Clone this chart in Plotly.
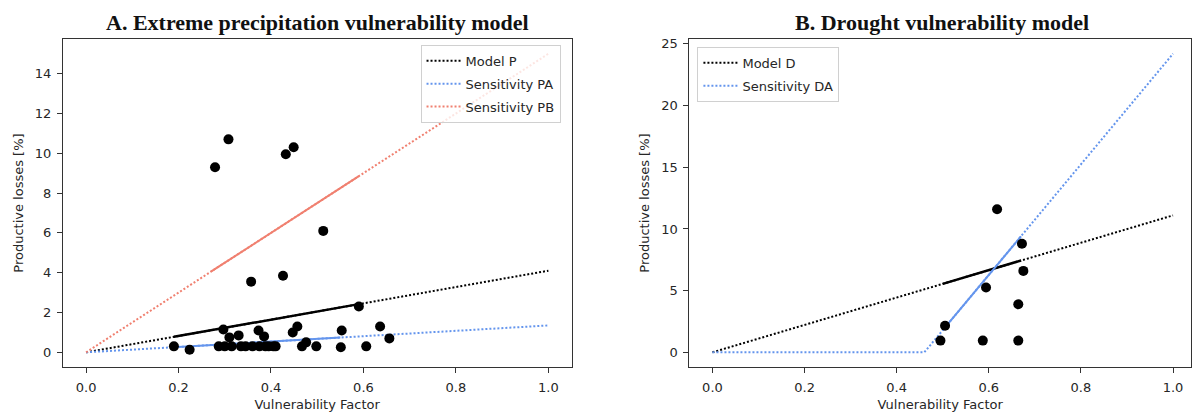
import plotly.graph_objects as go

# ---------------- data ----------------
# Panel A scatter (vulnerability factor, productive losses %)
a_vf = [0.19, 0.224, 0.287, 0.297, 0.30, 0.31, 0.315, 0.33, 0.335, 0.345, 0.357, 0.36,
        0.373, 0.375, 0.385, 0.388, 0.395, 0.405, 0.41, 0.426, 0.447, 0.457, 0.467,
        0.476, 0.498, 0.513, 0.551, 0.553, 0.59, 0.606, 0.636, 0.656, 0.279, 0.308,
        0.432, 0.449]
a_loss = [0.3, 0.13, 0.3, 1.15, 0.3, 0.75, 0.3, 0.85, 0.3, 0.3, 3.55, 0.3,
          1.1, 0.3, 0.8, 0.3, 0.3, 0.3, 0.3, 3.85, 1.0, 1.3, 0.3,
          0.5, 0.3, 6.1, 0.25, 1.1, 2.3, 0.3, 1.3, 0.7, 9.3, 10.7,
          9.95, 10.3]

# Panel A model lines (full range, dotted) and fitted-range segments (solid)
line_x = [0.0, 1.0]
model_p = [0.0, 4.1]
sens_pa = [0.0, 1.35]
sens_pb = [0.0, 15.0]
seg_p_x = [0.19, 0.59]
seg_p_y = [0.78, 2.42]
seg_pa_x = [0.19, 0.55]
seg_pa_y = [0.26, 0.74]
seg_pb_x = [0.27, 0.59]
seg_pb_y = [4.05, 8.85]

# Panel B scatter
b_vf = [0.495, 0.505, 0.587, 0.594, 0.618, 0.664, 0.664, 0.672, 0.675]
b_loss = [0.95, 2.15, 0.95, 5.25, 11.6, 0.95, 3.9, 8.8, 6.6]

# Panel B model lines
model_d = [0.0, 11.1]
sens_da_x = [0.0, 0.46, 1.0]
sens_da_y = [0.0, 0.0, 24.2]
seg_d_x = [0.50, 0.67]
seg_d_y = [5.55, 7.44]
seg_da_x = [0.50, 0.67]
seg_da_y = [1.8, 9.4]

x_ticks = [0.0, 0.2, 0.4, 0.6, 0.8, 1.0]
a_yticks = [0, 2, 4, 6, 8, 10, 12, 14]
b_yticks = [0, 5, 10, 15, 20, 25]

BLACK = "#000000"
BLUE = "#6495ED"
RED = "#F08070"
TXT = "#262626"

W, H = 1192, 417

fig = go.Figure()

def dotted(x, y, color, name, xa, ya, legend):
    fig.add_trace(go.Scatter(x=x, y=y, mode="lines", name=name, legendgroup=name,
                             line=dict(color=color, width=2, dash="2px,2px"),
                             xaxis=xa, yaxis=ya, legend=legend, showlegend=True))

def solid(x, y, color, width, xa, ya):
    fig.add_trace(go.Scatter(x=x, y=y, mode="lines", showlegend=False,
                             line=dict(color=color, width=width),
                             xaxis=xa, yaxis=ya))

# Panel A
dotted(line_x, model_p, BLACK, "Model P", "x", "y", "legend")
dotted(line_x, sens_pa, BLUE, "Sensitivity PA", "x", "y", "legend")
dotted(line_x, sens_pb, RED, "Sensitivity PB", "x", "y", "legend")
solid(seg_p_x, seg_p_y, BLACK, 2.5, "x", "y")
solid(seg_pa_x, seg_pa_y, BLUE, 2, "x", "y")
solid(seg_pb_x, seg_pb_y, RED, 2, "x", "y")
fig.add_trace(go.Scatter(x=a_vf, y=a_loss, mode="markers", showlegend=False,
                         marker=dict(color=BLACK, size=10), xaxis="x", yaxis="y"))

# Panel B
dotted(line_x, model_d, BLACK, "Model D", "x2", "y2", "legend2")
dotted(sens_da_x, sens_da_y, BLUE, "Sensitivity DA", "x2", "y2", "legend2")
solid(seg_d_x, seg_d_y, BLACK, 2.5, "x2", "y2")
solid(seg_da_x, seg_da_y, BLUE, 2, "x2", "y2")
fig.add_trace(go.Scatter(x=b_vf, y=b_loss, mode="markers", showlegend=False,
                         marker=dict(color=BLACK, size=10), xaxis="x2", yaxis="y2"))

top_px, bot_px = 37, 367
ydom = [1 - bot_px / H, 1 - top_px / H]
font13 = dict(family="DejaVu Sans", size=13, color=TXT)
axis_common = dict(showline=True, linecolor="#333", linewidth=1, mirror=True,
                   ticks="outside", ticklen=5, tickcolor="#333", tickfont=font13,
                   ticklabelstandoff=3, showgrid=False, zeroline=False)

legend_common = dict(yanchor="top", bgcolor="rgba(255,255,255,0.8)",
                     bordercolor="#d0d0d0", borderwidth=1, font=font13,
                     traceorder="grouped", tracegroupgap=3, itemwidth=34)

fig.update_layout(
    width=W, height=H,
    margin=dict(l=0, r=0, t=0, b=0),
    plot_bgcolor="white", paper_bgcolor="white",
    xaxis=dict(domain=[63 / W, 572 / W], range=[-0.05, 1.05], tickvals=x_ticks,
               tickformat=".1f", anchor="y",
               title=dict(text="Vulnerability Factor", font=font13, standoff=6),
               **axis_common),
    yaxis=dict(domain=ydom, range=[-0.75, 15.75], tickvals=a_yticks, anchor="x",
               title=dict(text="Productive losses [%]", font=font13, standoff=8),
               **axis_common),
    xaxis2=dict(domain=[690 / W, 1.0], range=[-0.05, 1.039], tickvals=x_ticks,
                tickformat=".1f", anchor="y2",
                title=dict(text="Vulnerability Factor", font=font13, standoff=6),
                **axis_common),
    yaxis2=dict(domain=ydom, range=[-1.21, 25.41], tickvals=b_yticks, anchor="x2",
                title=dict(text="Productive losses [%]", font=font13, standoff=8),
                **axis_common),
    legend=dict(x=561 / W, y=1 - 43 / H, xanchor="right", **legend_common),
    legend2=dict(x=698 / W, y=1 - 45 / H, xanchor="left", **legend_common),
    annotations=[
        dict(text="<b>A. Extreme precipitation vulnerability model</b>", x=317.5 / W, y=1 - 21 / H,
             xref="paper", yref="paper", showarrow=False, xanchor="center", yanchor="middle",
             font=dict(family="Liberation Serif", size=22, color="#111")),
        dict(text="<b>B. Drought vulnerability model</b>", x=943 / W, y=1 - 21 / H,
             xref="paper", yref="paper", showarrow=False, xanchor="center", yanchor="middle",
             font=dict(family="Liberation Serif", size=22, color="#111")),
    ],
)

fig.write_html("out.html")
